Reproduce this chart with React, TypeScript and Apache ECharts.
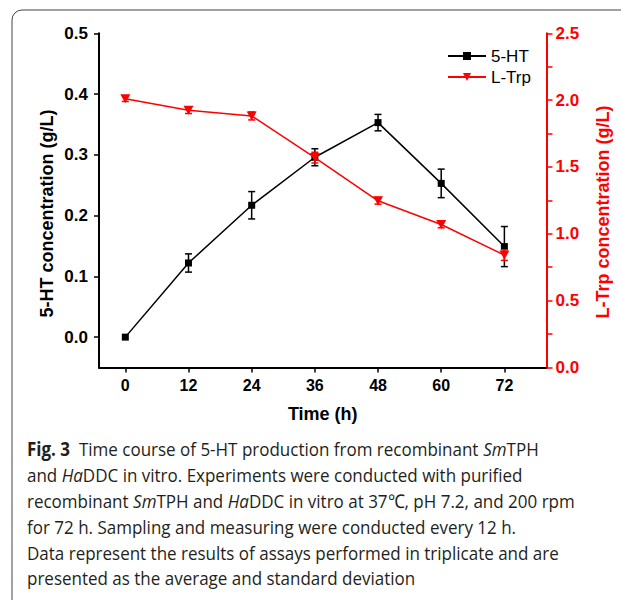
import React, { useEffect, useRef } from "react";
import * as echarts from "echarts";

const hours = [0, 12, 24, 36, 48, 60, 72];
const htMean = [0.0, 0.122, 0.217, 0.296, 0.353, 0.253, 0.149];
const htSd = [0.0, 0.015, 0.0225, 0.014, 0.0135, 0.0235, 0.033];
const trpMean = [2.01, 1.925, 1.882, 1.57, 1.247, 1.07, 0.841];
const trpSd = [0.02, 0.025, 0.03, 0.04, 0.025, 0.025, 0.04];

const leftTicks = [0, 0.1, 0.2, 0.3, 0.4, 0.5];
const rightLabels = [0, 0.5, 1.0, 1.5, 2.0, 2.5];
const rightTickMarks = [0, 0.25, 0.5, 0.75, 1.0, 1.25, 1.5, 1.75, 2.0, 2.25, 2.5];

const seriesNames = ["5-HT", "L-Trp"];
const xName = "Time (h)";
const leftName = "5-HT concentration (g/L)";
const rightName = "L-Trp concentration (g/L)";

const captionLines = [
  "{b|Fig. 3}  Time course of 5-HT production from recombinant {i|Sm}TPH",
  "and {i|Ha}DDC in vitro. Experiments were conducted with purified",
  "recombinant {i|Sm}TPH and {i|Ha}DDC in vitro at 37℃, pH 7.2, and 200 rpm",
  "for 72 h. Sampling and measuring were conducted every 12 h.",
  "Data represent the results of assays performed in triplicate and are",
  "presented as the average and standard deviation",
];

const AX_FONT = "Liberation Sans";
const CAP_FONT = "Open Sans";
const RED = "#ff0000";

function errorBarRenderer(color: string) {
  return (params: any, api: any) => {
    const x = api.value(0);
    const lo = api.value(1);
    const hi = api.value(2);
    if (hi - lo <= 0) return { type: "group", children: [] };
    const pTop = api.coord([x, hi]);
    const pBot = api.coord([x, lo]);
    const cap = 3.5;
    const style = { stroke: color, lineWidth: 1.5, fill: "none" };
    return {
      type: "group",
      children: [
        { type: "line", shape: { x1: pTop[0], y1: pTop[1], x2: pBot[0], y2: pBot[1] }, style },
        { type: "line", shape: { x1: pTop[0] - cap, y1: pTop[1], x2: pTop[0] + cap, y2: pTop[1] }, style },
        { type: "line", shape: { x1: pBot[0] - cap, y1: pBot[1], x2: pBot[0] + cap, y2: pBot[1] }, style },
      ],
    };
  };
}

export default function App() {
  const ref = useRef<HTMLDivElement>(null);

  useEffect(() => {
    if (!ref.current) return;
    const chart = echarts.init(ref.current, null, { renderer: "svg" });

    const htLine = hours.map((h, i) => [h, htMean[i]]);
    const trpLine = hours.map((h, i) => [h, trpMean[i]]);
    const htErr = hours.map((h, i) => [h, htMean[i] - htSd[i], htMean[i] + htSd[i]]);
    const trpErr = hours.map((h, i) => [h, trpMean[i] - trpSd[i], trpMean[i] + trpSd[i]]);

    const capStyleBase = { fontFamily: CAP_FONT, fontSize: 19, fill: "#231f20" };
    const captionGraphics = captionLines.map((line, i) => ({
      type: "text",
      x: 27,
      y: 449 + i * 25.8,
      scaleX: 0.895,
      style: {
        text: line,
        fontFamily: CAP_FONT,
        fontSize: 19,
        fill: "#231f20",
        align: "left",
        verticalAlign: "middle",
        rich: {
          b: { ...capStyleBase, fontWeight: "bold" },
          i: { ...capStyleBase, fontStyle: "italic" },
        },
      },
    }));

    chart.setOption({
      animation: false,
      backgroundColor: "#fff",
      grid: { left: 99, right: 74.5, top: 33.3, bottom: 232.5, containLabel: false },
      legend: {
        orient: "vertical",
        left: 442,
        top: 42.5,
        itemWidth: 38,
        itemHeight: 10,
        itemGap: 4,
        data: seriesNames,
        textStyle: { fontFamily: AX_FONT, fontSize: 17, color: "#000" },
      },
      xAxis: {
        type: "value",
        min: -5,
        max: 80,
        name: xName,
        nameLocation: "middle",
        nameGap: 37,
        nameTextStyle: { fontFamily: AX_FONT, fontSize: 18, fontWeight: "bold", color: "#000" },
        axisLine: { onZero: false, lineStyle: { color: "#000", width: 2 } },
        axisTick: { show: true, length: 5, customValues: hours, lineStyle: { color: "#000", width: 1.5 } },
        axisLabel: {
          customValues: hours,
          margin: 10,
          fontFamily: AX_FONT,
          fontSize: 16,
          fontWeight: "bold",
          color: "#000",
        },
        splitLine: { show: false },
      },
      yAxis: [
        {
          type: "value",
          min: -0.05,
          max: 0.5,
          position: "left",
          axisLine: { show: true, onZero: false, lineStyle: { color: "#000", width: 2 } },
          axisTick: { show: true, length: 5, customValues: leftTicks, lineStyle: { color: "#000", width: 1.5 } },
          axisLabel: {
            customValues: leftTicks,
            margin: 11,
            formatter: (v: number) => v.toFixed(1),
            fontFamily: AX_FONT,
            fontSize: 17,
            fontWeight: "bold",
            color: "#000",
          },
          splitLine: { show: false },
        },
        {
          type: "value",
          min: 0,
          max: 2.5,
          position: "right",
          axisLine: { show: true, onZero: false, lineStyle: { color: RED, width: 2 } },
          axisTick: { show: true, length: 6, customValues: rightTickMarks, lineStyle: { color: RED, width: 1.5 } },
          axisLabel: {
            customValues: rightLabels,
            margin: 9,
            formatter: (v: number) => v.toFixed(1),
            fontFamily: AX_FONT,
            fontSize: 17,
            fontWeight: "bold",
            color: RED,
          },
          splitLine: { show: false },
        },
      ],
      series: [
        {
          type: "custom",
          xAxisIndex: 0,
          yAxisIndex: 0,
          data: htErr,
          renderItem: errorBarRenderer("#000"),
          z: 1,
          silent: true,
        },
        {
          type: "custom",
          xAxisIndex: 0,
          yAxisIndex: 1,
          data: trpErr,
          renderItem: errorBarRenderer(RED),
          z: 3,
          silent: true,
        },
        {
          name: seriesNames[0],
          type: "line",
          yAxisIndex: 0,
          data: htLine,
          symbol: "rect",
          symbolSize: 7,
          color: "#000",
          itemStyle: { color: "#000" },
          lineStyle: { color: "#000", width: 1.5 },
          z: 2,
        },
        {
          name: seriesNames[1],
          type: "line",
          yAxisIndex: 1,
          data: trpLine,
          symbol: "triangle",
          symbolSize: [10, 9],
          symbolRotate: 180,
          color: RED,
          itemStyle: { color: RED },
          lineStyle: { color: RED, width: 1.5 },
          z: 4,
        },
      ],
      graphic: [
        {
          type: "rect",
          shape: { x: 12, y: 10, width: 700, height: 700, r: 10 },
          style: { fill: "none", stroke: "#444", lineWidth: 1 },
          z: -10,
        },
        {
          type: "text",
          x: 46.5,
          y: 213.5,
          rotation: Math.PI / 2,
          style: {
            text: leftName,
            fontFamily: AX_FONT,
            fontSize: 18,
            fontWeight: "bold",
            fill: "#000",
            align: "center",
            verticalAlign: "middle",
          },
        },
        {
          type: "text",
          x: 603,
          y: 212,
          rotation: Math.PI / 2,
          style: {
            text: rightName,
            fontFamily: AX_FONT,
            fontSize: 18,
            fontWeight: "bold",
            fill: RED,
            align: "center",
            verticalAlign: "middle",
          },
        },
        ...captionGraphics,
      ],
    });

    return () => chart.dispose();
  }, []);

  return (
    <div
      ref={ref}
      style={{ position: "absolute", left: 0, top: 0, width: 621, height: 600, background: "#fff" }}
    />
  );
}
